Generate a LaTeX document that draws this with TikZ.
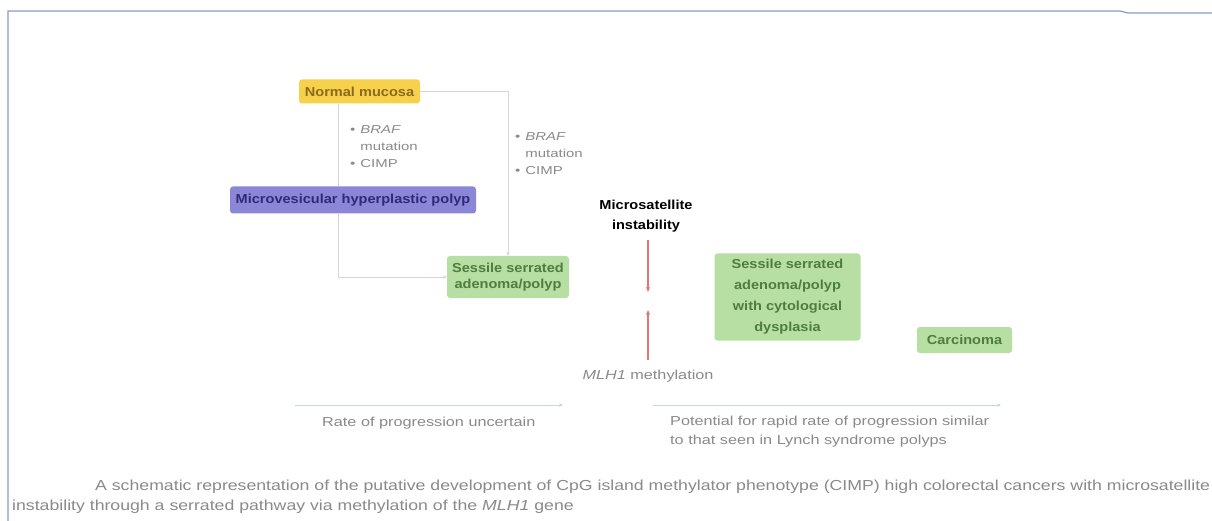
\documentclass[tikz,border=0pt]{standalone}
\usepackage{fontspec}
\setmainfont{Liberation Sans}
\newfontfamily\gfont{Liberation Sans}[FakeStretch=1.25]
\newfontfamily\capfont{Liberation Sans}[FakeStretch=1.22]
\newfontfamily\bxfont{Liberation Sans}[FakeStretch=1.12]
\newfontfamily\blfont{Liberation Sans}[FakeStretch=1.3]
\usetikzlibrary{arrows.meta,calc}
\definecolor{yelfill}{HTML}{F7D04C}
\definecolor{yeltext}{HTML}{8A6A1E}
\definecolor{purfill}{HTML}{8B86D8}
\definecolor{purtext}{HTML}{2F2A78}
\definecolor{grnfill}{HTML}{B7DFA3}
\definecolor{grntext}{HTML}{4E7D3E}
\definecolor{connc}{HTML}{D6D6D6}
\definecolor{redc}{HTML}{E27777}
\definecolor{bluel}{HTML}{C5D7E0}
\definecolor{txtg}{HTML}{8A8A8A}
\definecolor{framec}{HTML}{8A9AC6}
\tikzset{
  box/.style={rounded corners=3pt, inner sep=2pt, align=center, font=\bxfont\fontsize{13}{16}\selectfont\bfseries},
  ybox/.style={box, fill=yelfill, text=yeltext},
  pbox/.style={box, fill=purfill, text=purtext},
  gbox/.style={box, fill=grnfill, text=grntext},
  conn/.style={draw=connc, line width=0.9pt},
  carrow/.style={conn, -{Stealth[length=4pt,width=3.5pt]}},
  rarrow/.style={draw=redc, line width=1.2pt, -{Stealth[length=5pt,width=4pt]}},
  barrow/.style={draw=bluel, line width=1pt, -{Stealth[length=4pt,width=3.5pt]}},
  gtext/.style={text=txtg, font=\gfont\fontsize{13}{19}\selectfont, inner sep=0pt},
  bullets/.style={text=txtg, font=\blfont\fontsize{11.5}{17}\selectfont, inner sep=0pt, anchor=north west},
}
\begin{document}
\begin{tikzpicture}[x=1pt,y=-1pt]
\useasboundingbox (0,0) rectangle (1212,521);
\fill[white] (0,0) rectangle (1212,521);
% frame
\draw[framec, line width=1.2pt] (8,521) -- (8,11) -- (1120,11) -- (1128,13) -- (1212,13);

% nodes
\node[ybox, minimum width=121pt, minimum height=24pt] (nm) at (359.5,91.5) {Normal mucosa};
\node[pbox, minimum width=246pt, minimum height=27pt] (mv) at (353,200) {Microvesicular hyperplastic polyp};
\node[gbox, minimum width=122pt, minimum height=42pt] (ssa) at (508,277) {Sessile serrated\\adenoma/polyp};
\node[gbox, minimum width=146pt, minimum height=87pt, font=\bxfont\fontsize{13}{21}\selectfont\bfseries] (ssd) at (787.5,297) {Sessile serrated\\adenoma/polyp\\with cytological\\dysplasia};
\node[gbox, minimum width=95pt, minimum height=26pt] (ca) at (964.5,340) {Carcinoma};

\node[font=\bxfont\fontsize{13}{20}\selectfont\bfseries, align=center, inner sep=0pt] (msi) at (646,216) {Microsatellite\\instability};
\node[gtext] (mlh) at (648,376) {\textit{MLH1} methylation};

\node[bullets] (b1) at (350,121) {\begin{tabular}{@{}l@{\hspace{5pt}}l@{}}\textbullet & \textit{BRAF}\\ & mutation\\ \textbullet & CIMP\end{tabular}};
\node[bullets] (b2) at (515,128) {\begin{tabular}{@{}l@{\hspace{5pt}}l@{}}\textbullet & \textit{BRAF}\\ & mutation\\ \textbullet & CIMP\end{tabular}};

% connectors
\coordinate (lx) at (338,0);
\draw[conn] (nm.south -| lx) -- (mv.north -| lx);
\draw[carrow] (mv.south -| lx) |- (ssa.west);
\draw[carrow] (nm.east) -| (ssa.north);

\coordinate (rstart) at (648,240);
\coordinate (rtop) at (648,292);
\coordinate (rbot) at (648,310);
\draw[rarrow] (rstart) -- (rtop);
\draw[rarrow] ($(mlh.north -| rbot)+(0,-10)$) -- (rbot);

% bottom arrows
\coordinate (a1s) at (295,405);
\coordinate (a1e) at (563,405);
\coordinate (a2s) at (653,405);
\coordinate (a2e) at (1001,405);
\draw[barrow] (a1s) -- (a1e);
\draw[barrow] (a2s) -- (a2e);
\node[gtext, anchor=west] (r1) at (322,423) {Rate of progression uncertain};
\node[gtext, anchor=north west, align=left] (r2) at (670,416) {Potential for rapid rate of progression similar\\to that seen in Lynch syndrome polyps};

% caption
\node[gtext, anchor=west, font=\capfont\fontsize{14.5}{20}\selectfont] (cap1) at (95,487) {A schematic representation of the putative development of CpG island methylator phenotype (CIMP) high colorectal cancers with microsatellite};
\node[gtext, anchor=west, font=\capfont\fontsize{14.5}{20}\selectfont] (cap2) at (12,507) {instability through a serrated pathway via methylation of the \textit{MLH1} gene};
\end{tikzpicture}
\end{document}
